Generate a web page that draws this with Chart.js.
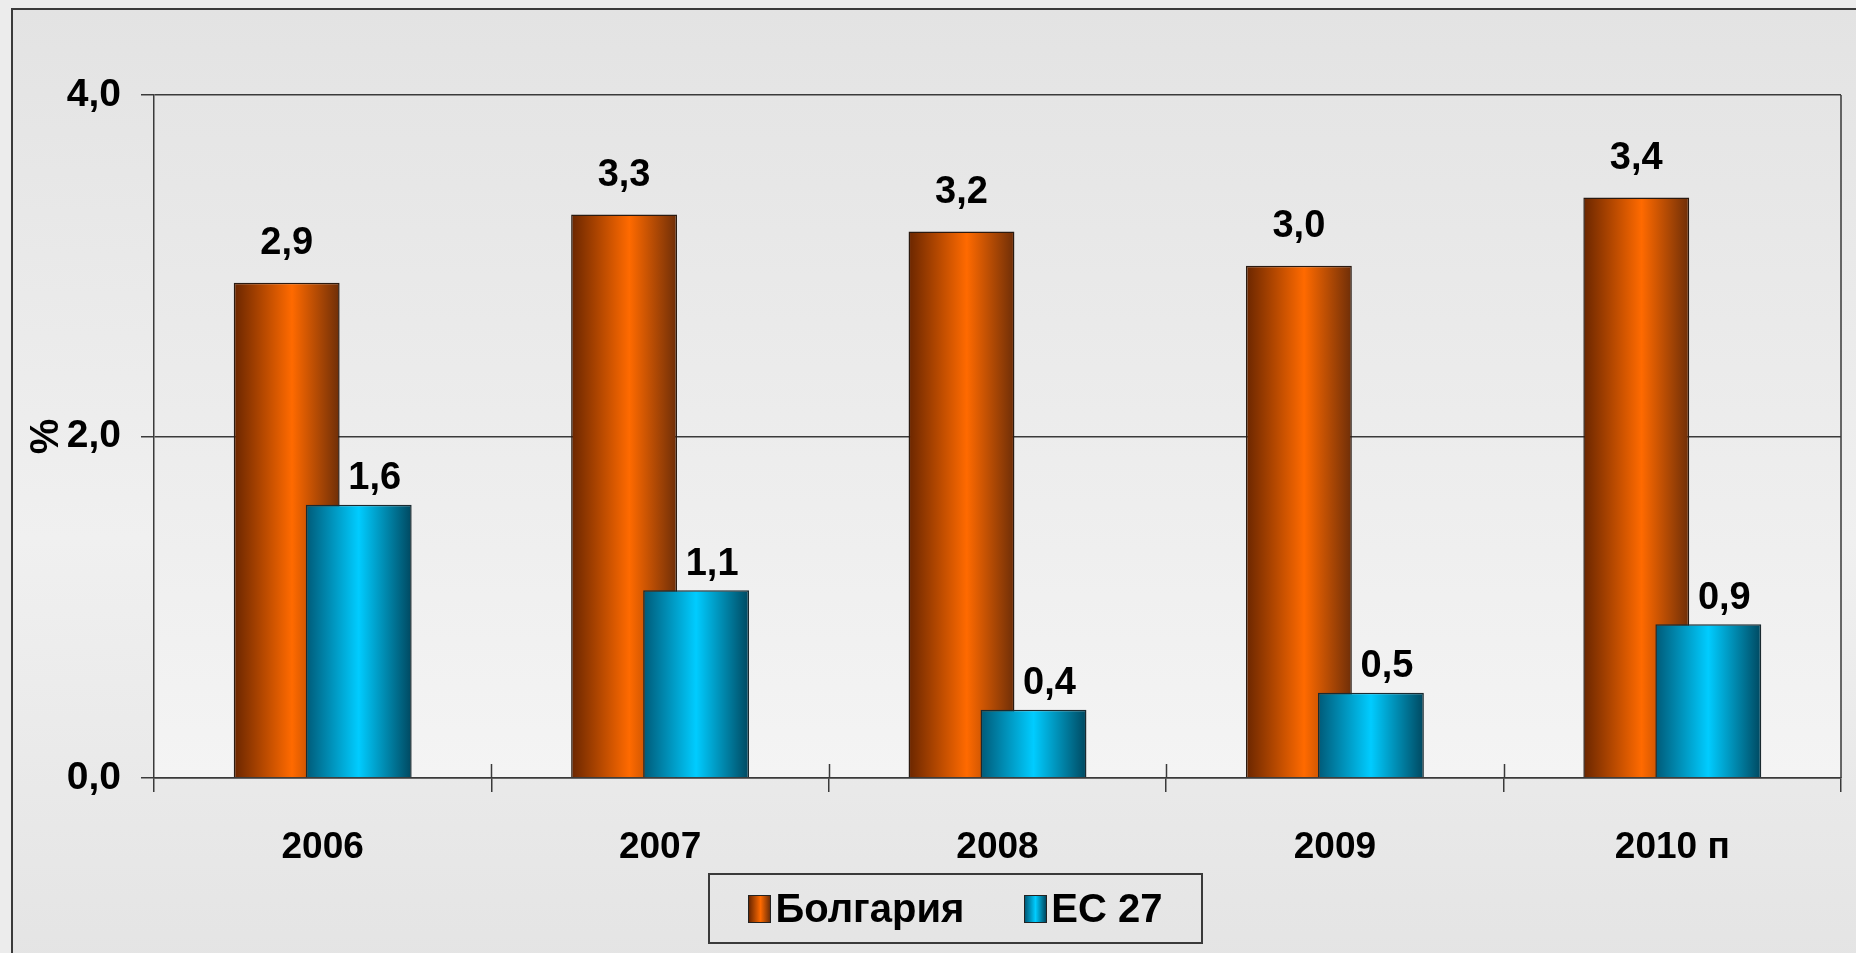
<!DOCTYPE html>
<html>
<head>
<meta charset="utf-8">
<script src="https://cdn.jsdelivr.net/npm/chart.js@4/dist/chart.umd.min.js"></script>
<style>
  html, body { margin: 0; padding: 0; }
  body { width: 1856px; height: 953px; overflow: hidden; background: #ececec; position: relative;
         font-family: "Liberation Sans", Arial, sans-serif; }
  #frame { position: absolute; left: 11px; top: 8px; width: 1860px; height: 960px;
           border: 2px solid #3a3a3a;
           background: linear-gradient(to bottom, #e3e3e3 0%, #f0f0f0 55%, #e4e4e4 100%); }
  #chart { position: absolute; left: 0; top: 0; }
  #legend { position: absolute; left: 708px; top: 873px; width: 491px; height: 67px;
            border: 2px solid #3a3a3a; display: flex; align-items: center; justify-content: center;
            font-weight: bold; font-size: 40px; color: #000; }
  #legend .item { display: flex; align-items: center; margin: 0 30px; }
  #legend .sw { width: 21px; height: 26px; border: 1px solid #222; margin-right: 4px; }
</style>
</head>
<body>
<div id="frame"></div>
<canvas id="chart" width="1856" height="953"></canvas>
<div id="legend"></div>
<script>
// data
var years = ["2006", "2007", "2008", "2009", "2010 п"];
var bulgaria = [2.9, 3.3, 3.2, 3.0, 3.4];
var eu27 = [1.6, 1.1, 0.4, 0.5, 0.9];
var seriesNames = ["Болгария", "ЕС 27"];
var yMin = 0, yMax = 4, yStep = 2;

var CAT_PCT = 0.427;
var BAR_PCT = 1.47;
var LINE = "#3a3a3a";
var FONT = "'Liberation Sans', Arial, sans-serif";

function fmt(v) {
  return v.toFixed(1).replace(".", ",");
}

// horizontal shading of each bar, worked out from the x scale
function barGradient(dark, light, edge, peak, side) {
  return function (c) {
    var chart = c.chart;
    var x = chart.scales.x;
    if (!chart.chartArea || !x || c.type !== "data") return light;
    var w = x.width / years.length;
    var center = x.getPixelForValue(c.dataIndex) + side * w * CAT_PCT / 4;
    var half = (w * CAT_PCT / 2) * BAR_PCT / 2;
    var g = chart.ctx.createLinearGradient(center - half, 0, center + half, 0);
    g.addColorStop(0, dark);
    g.addColorStop(peak, light);
    g.addColorStop(1, edge);
    return g;
  };
}

// plot background, right border and the small marks above the category ticks
var plotArea = {
  id: "plotArea",
  beforeDraw: function (chart) {
    var a = chart.chartArea, ctx = chart.ctx;
    var g = ctx.createLinearGradient(0, a.top, 0, a.bottom);
    g.addColorStop(0, "#e5e5e5");
    g.addColorStop(1, "#f4f4f4");
    ctx.save();
    ctx.fillStyle = g;
    ctx.fillRect(a.left, a.top, a.right - a.left, a.bottom - a.top);
    ctx.restore();
  },
  afterDraw: function (chart) {
    var a = chart.chartArea, ctx = chart.ctx, x = chart.scales.x;
    var w = x.width / years.length;
    ctx.save();
    ctx.strokeStyle = LINE;
    ctx.lineWidth = 1.5;
    ctx.beginPath();
    ctx.moveTo(a.right, a.top);
    ctx.lineTo(a.right, a.bottom);
    for (var i = 1; i < years.length; i++) {
      var px = Math.round(x.getPixelForValue(i) - w / 2) + 0.5;
      ctx.moveTo(px, a.bottom - 14);
      ctx.lineTo(px, a.bottom);
    }
    ctx.stroke();
    ctx.restore();
  }
};

// draw EC 27 bars over the Bulgaria bars
var drawOrder = {
  id: "drawOrder",
  beforeDatasetsDraw: function (chart) {
    chart.data.datasets.forEach(function (d, i) {
      var meta = chart.getDatasetMeta(i);
      if (meta.visible) meta.controller.draw();
    });
    return false;
  }
};

// value labels
var labelOffsets = [[0, 39], [16, 26]];
var valueLabels = {
  id: "valueLabels",
  afterDraw: function (chart) {
    var ctx = chart.ctx;
    ctx.save();
    ctx.font = "bold 38px " + FONT;
    ctx.fillStyle = "#000";
    ctx.textAlign = "center";
    ctx.textBaseline = "middle";
    chart.data.datasets.forEach(function (ds, i) {
      var meta = chart.getDatasetMeta(i);
      meta.data.forEach(function (bar, j) {
        ctx.fillText(fmt(ds.data[j]), bar.x + labelOffsets[i][0], bar.y - labelOffsets[i][1]);
      });
    });
    ctx.restore();
  }
};

var ctx = document.getElementById("chart").getContext("2d");
var myChart = new Chart(ctx, {
  type: "bar",
  data: {
    labels: years,
    datasets: [
      {
        label: seriesNames[0],
        data: bulgaria,
        backgroundColor: barGradient("#6a2600", "#ff6a00", "#6e2e08", 0.55, -1),
        borderColor: "#2a1a10",
        borderWidth: 1.5,
      },
      {
        label: seriesNames[1],
        data: eu27,
        backgroundColor: barGradient("#005a78", "#00ccff", "#004860", 0.5, 1),
        borderColor: "#1a2a30",
        borderWidth: 1.5,
      },
    ],
  },
  options: {
    responsive: false,
    animation: false,
    events: [],
    categoryPercentage: CAT_PCT,
    barPercentage: BAR_PCT,
    layout: { padding: { left: 0, top: 95, right: 15, bottom: 0 } },
    plugins: {
      legend: { display: false },
      tooltip: { enabled: false },
    },
    scales: {
      x: {
        grid: { offset: true, drawOnChartArea: false, tickLength: 14, color: LINE, lineWidth: 1.5 },
        border: { color: LINE, width: 1.5 },
        ticks: { color: "#000", padding: 34, font: { family: FONT, size: 37, weight: "bold" } },
        afterFit: function (s) { s.height = 175; },
      },
      y: {
        min: yMin,
        max: yMax,
        ticks: {
          stepSize: yStep,
          color: "#000",
          padding: 20,
          font: { family: FONT, size: 39, weight: "bold" },
          callback: function (v) { return fmt(v); },
        },
        grid: { color: LINE, lineWidth: 1.5, tickLength: 13 },
        border: { color: LINE, width: 1.5 },
        title: {
          display: true,
          text: "%",
          color: "#000",
          font: { family: FONT, size: 40, weight: "bold" },
          padding: { top: 23, bottom: 0 },
        },
        afterFit: function (s) { s.width = 154; },
      },
    },
  },
  plugins: [plotArea, drawOrder, valueLabels],
});

// html legend in a framed box
var swatches = ["linear-gradient(to right, #6a2600, #ff6a00 55%, #6e2e08)",
                "linear-gradient(to right, #005a78, #00ccff 50%, #004860)"];
var legendBox = document.getElementById("legend");
seriesNames.forEach(function (name, i) {
  var item = document.createElement("div");
  item.className = "item";
  var sw = document.createElement("span");
  sw.className = "sw";
  sw.style.background = swatches[i];
  item.appendChild(sw);
  var label = document.createElement("span");
  label.textContent = name;
  item.appendChild(label);
  legendBox.appendChild(item);
});
</script>
</body>
</html>
